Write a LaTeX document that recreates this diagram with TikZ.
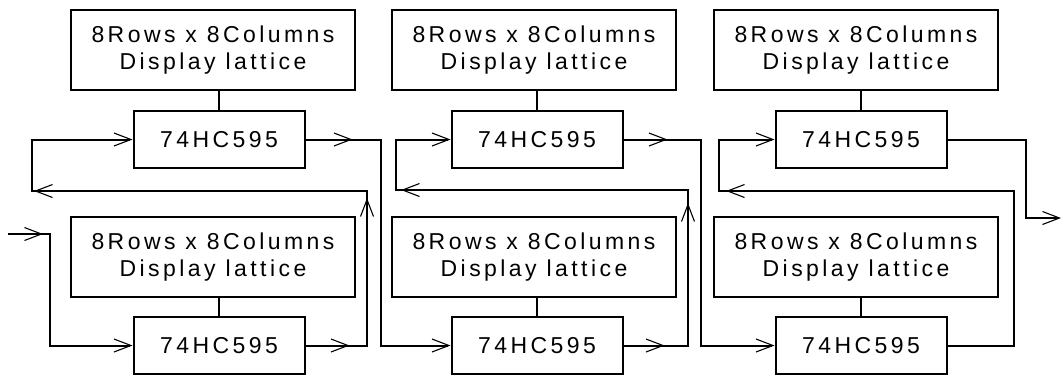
\documentclass[tikz,border=0pt]{standalone}
\usepackage{fontspec}
\setmainfont{Liberation Sans}[LetterSpace=15]
\usetikzlibrary{arrows.meta,decorations.markings}

\begin{document}
\begin{tikzpicture}
  [x=1pt,y=-1pt,line width=2pt,
   >={Straight Barb[length=17pt,width=13pt,line width=1.1pt]},
   lattice/.style={draw,minimum width=284pt,minimum height=80pt,align=center,
     font=\fontsize{23}{27.5}\selectfont},
   chip/.style={draw,minimum width=171pt,minimum height=57pt,
     font=\fontsize{23}{27.5}\selectfont},
   arrowat/.style={postaction={decorate,decoration={markings,
     mark=at position #1 with {\arrow{>}}}}}]
  \useasboundingbox (0,0) rectangle (1062,376);

  \foreach \n/\dx/\cx in {1/213/219,2/534/537,3/856/861}{
    \node[lattice] (dt\n) at (\dx,50)  {8Rows x 8Columns\\Display lattice};
    \node[chip]    (ct\n) at (\cx,139.5) {74HC595};
    \node[lattice] (db\n) at (\dx,257) {8Rows x 8Columns\\Display lattice};
    \node[chip]    (cb\n) at (\cx,345.5) {74HC595};
    \draw (ct\n.north) -- (ct\n.north |- dt\n.south);
    \draw (cb\n.north) -- (cb\n.north |- db\n.south);
  }

  % bends of the wires
  \coordinate (in) at (8,234);
  \coordinate (i1) at (50,234);
  \coordinate (fr1) at (367,191);
  \coordinate (fl1) at (32,191);
  \coordinate (k1) at (381,240);
  \coordinate (fr2) at (688,190);
  \coordinate (fl2) at (396,190);
  \coordinate (k2) at (701,240);
  \coordinate (fr3) at (1014,191);
  \coordinate (fl3) at (719,191);
  \coordinate (k3) at (1026,180);
  \coordinate (out) at (1061,218);

  \draw[arrowat=35pt,->] (in) -- (i1) |- (cb1.west);
  \draw[arrowat=44pt,arrowat=209pt,arrowat=549pt,->] (cb1.east) -| (fr1) -- (fl1) |- (ct1.west);
  \draw[arrowat=47pt,->] (ct1.east) -| (k1) |- (cb2.west);
  \draw[arrowat=41pt,arrowat=207pt,arrowat=507pt,->] (cb2.east) -| (fr2) -- (fl2) |- (ct2.west);
  \draw[arrowat=44pt,->] (ct2.east) -| (k2) |- (cb3.west);
  \draw[arrowat=509pt,->] (cb3.east) -| (fr3) -- (fl3) |- (ct3.west);
  \draw[->] (ct3.east) -| (k3) |- (out);
\end{tikzpicture}
\end{document}
